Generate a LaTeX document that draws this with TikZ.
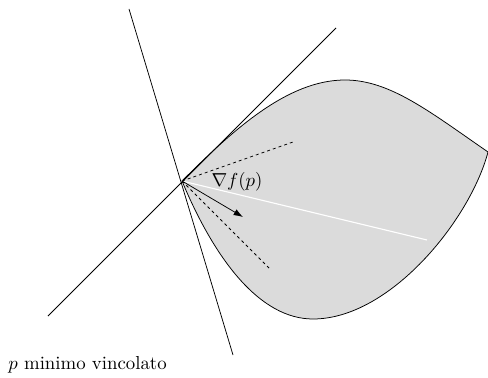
\documentclass[tikz,border=0pt]{standalone}
\usepackage{amsmath,amssymb}
\usepackage{tikz}
\usetikzlibrary{arrows.meta}

\begin{document}
\begin{tikzpicture}[x=0.532pt, y=-0.532pt,
    region/.style={draw=black, fill=black!14, thin},
    tangent/.style={thin},
    cone/.style={dash pattern=on 1.6pt off 1.6pt, thin},
    grad/.style={-{Latex[length=5pt, width=3.5pt]}, thin},
    sweep/.style={white, semithick}]
    \useasboundingbox (0,0) rectangle (488,378);

    % punto di minimo e estremi
    \coordinate (p) at (182,181);
    \coordinate (top) at (345,80);
    \coordinate (tip) at (488,152);
    \coordinate (bot) at (313,319);

    % regione ammissibile
    \draw[region] (p) .. controls (232,131) and (287,80) .. (top)
        .. controls (390,80) and (430,112) .. (tip)
        .. controls (470,220) and (390,319) .. (bot)
        .. controls (260,319) and (215,260) .. (p) -- cycle;

    % rette tangenti
    \coordinate (t1a) at (129,9);
    \coordinate (t1b) at (233,355);
    \coordinate (t2a) at (48,316);
    \coordinate (t2b) at (336,28);
    \draw[tangent] (t1a) -- (t1b);
    \draw[tangent] (t2a) -- (t2b);

    % cono e gradiente
    \coordinate (c1) at (293,142);
    \coordinate (c2) at (269,268);
    \coordinate (g) at (243,217);
    \coordinate (w) at (427,240);
    \draw[sweep] (p) -- (w);
    \draw[cone] (p) -- (c1);
    \draw[cone] (p) -- (c2);
    \draw[grad] (p) -- (g);
    \node (gradlabel) at (237,182) {$\nabla f(p)$};

    \node[anchor=west, inner sep=0pt] (caption) at (8,365) {$p$ minimo vincolato};
\end{tikzpicture}
\end{document}
